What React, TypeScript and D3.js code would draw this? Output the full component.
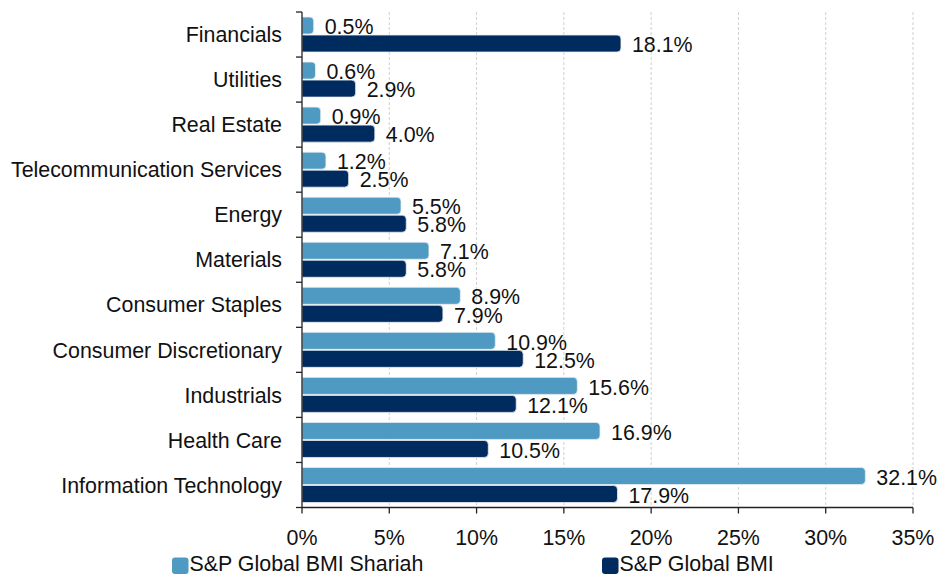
import React from "react";
import * as d3 from "d3";

const categories = [
  "Financials",
  "Utilities",
  "Real Estate",
  "Telecommunication Services",
  "Energy",
  "Materials",
  "Consumer Staples",
  "Consumer Discretionary",
  "Industrials",
  "Health Care",
  "Information Technology",
];
const shariah = [0.5, 0.6, 0.9, 1.2, 5.5, 7.1, 8.9, 10.9, 15.6, 16.9, 32.1];
const bmi = [18.1, 2.9, 4.0, 2.5, 5.8, 5.8, 7.9, 12.5, 12.1, 10.5, 17.9];
const seriesNames = ["S&P Global BMI Shariah", "S&P Global BMI"];
const xTicks = [0, 5, 10, 15, 20, 25, 30, 35];
const colors = ["#4E9AC3", "#002B5E"];

const W = 937;
const H = 576;
const left = 302;
const right = 913;
const top = 12;
const bottom = 507.5;
const font = "'Liberation Sans', Arial, sans-serif";
const fs = 21.4;

function barPath(x0: number, y: number, w: number, h: number, r: number) {
  const rr = Math.min(r, w / 2, h / 2);
  return `M${x0},${y}H${x0 + w - rr}Q${x0 + w},${y} ${x0 + w},${y + rr}V${y + h - rr}Q${x0 + w},${y + h} ${x0 + w - rr},${y + h}H${x0}Z`;
}

export default function App() {
  const x = d3.scaleLinear().domain([0, 35]).range([left, right]);
  const y = d3.scaleBand<string>().domain(categories).range([top, bottom]).paddingInner(0.2).paddingOuter(0.1);
  const step = (bottom - top) / categories.length;
  const inner = d3.scaleBand<number>().domain([0, 1]).range([0, y.bandwidth()]);
  const series = [shariah, bmi];

  return (
    <svg width={W} height={H} style={{ position: "absolute", left: 0, top: 0, background: "#fff" }}>
      {xTicks.slice(1).map((t) => (
        <line key={"g" + t} x1={x(t)} x2={x(t)} y1={top} y2={bottom} stroke="#d0d0d0" strokeWidth={1} strokeDasharray="3,2" />
      ))}
      {series.map((vals, si) =>
        vals.map((v, i) => {
          const yy = (y(categories[i]) as number) + (inner(si) as number) + 0.5;
          const h = inner.bandwidth() - 1;
          const w = x(v) - x(0) + 3;
          return (
            <path
              key={si + "-" + i}
              d={barPath(x(0), yy, w, h, 4)}
              fill={colors[si]}
              stroke="#e8eef4"
              strokeWidth={0.8}
            />
          );
        })
      )}
      {series.map((vals, si) =>
        vals.map((v, i) => {
          const yy = (y(categories[i]) as number) + (inner(si) as number) + inner.bandwidth() / 2 + 1;
          return (
            <text
              key={"l" + si + "-" + i}
              x={x(v) + 14}
              y={yy}
              dy="0.36em"
              fontFamily={font}
              fontSize={fs}
              fill="#111"
            >
              {v.toFixed(1) + "%"}
            </text>
          );
        })
      )}
      <line x1={left} x2={left} y1={top} y2={bottom} stroke="#222" strokeWidth={1.3} />
      <line x1={left} x2={right} y1={bottom} y2={bottom} stroke="#222" strokeWidth={1.3} />
      {d3.range(categories.length + 1).map((k) => (
        <line key={"yt" + k} x1={left - 6} x2={left} y1={top + k * step} y2={top + k * step} stroke="#222" strokeWidth={1.3} />
      ))}
      {xTicks.map((t) => (
        <line key={"xt" + t} x1={x(t)} x2={x(t)} y1={bottom} y2={bottom + 6} stroke="#222" strokeWidth={1.3} />
      ))}
      {xTicks.map((t) => (
        <text key={"xl" + t} x={x(t)} y={537} dy="0.36em" textAnchor="middle" fontFamily={font} fontSize={fs} fill="#111">
          {t + "%"}
        </text>
      ))}
      {categories.map((c) => (
        <text
          key={"c" + c}
          x={282}
          y={(y(c) as number) + y.bandwidth() / 2}
          dy="0.36em"
          textAnchor="end"
          fontFamily={font}
          fontSize={fs}
          fill="#111"
        >
          {c}
        </text>
      ))}
      {seriesNames.map((n, i) => {
        const lx = i === 0 ? 172 : 602;
        return (
          <g key={"lg" + i}>
            <rect x={lx} y={557.5} width={16.5} height={16.5} rx={3} fill={colors[i]} />
            <text x={lx + 17.5} y={563.5} dy="0.36em" fontFamily={font} fontSize={fs} fill="#111">
              {n}
            </text>
          </g>
        );
      })}
    </svg>
  );
}
